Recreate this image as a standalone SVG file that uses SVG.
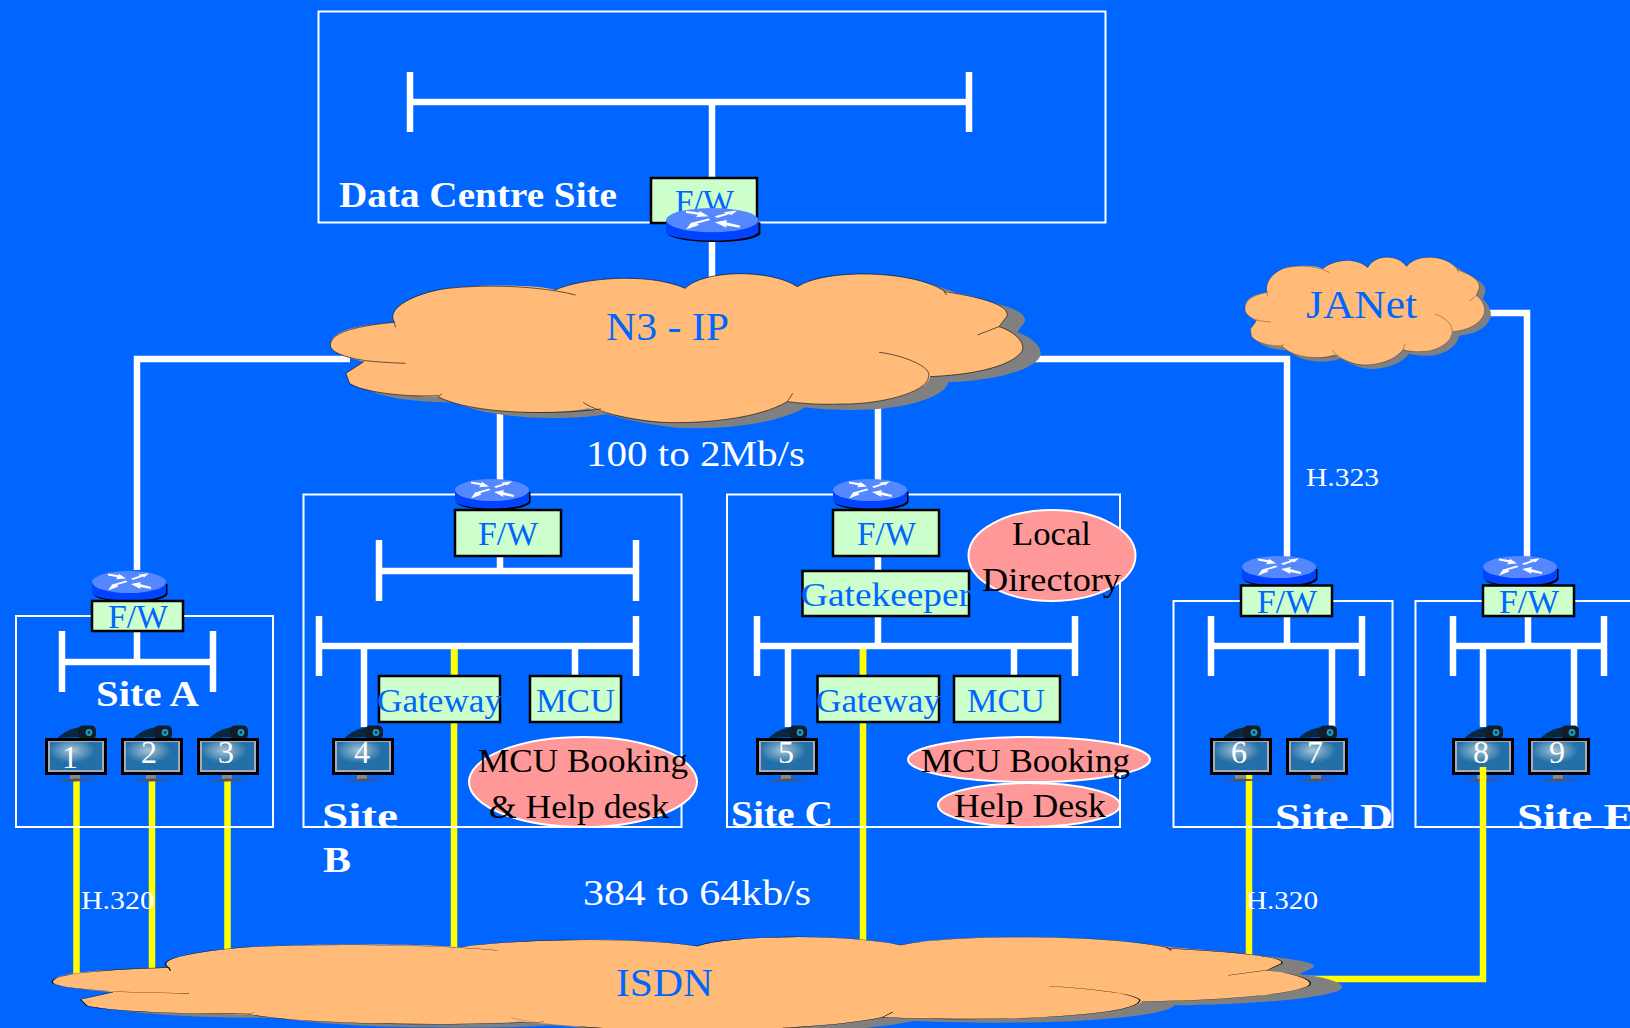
<svg xmlns="http://www.w3.org/2000/svg" xmlns:xlink="http://www.w3.org/1999/xlink" width="1630" height="1028" viewBox="0 0 1630 1028">
<style>
text{font-family:"Liberation Serif","Times New Roman",serif}
.w{fill:none;stroke:#fff;stroke-width:6.5}
.y{fill:none;stroke:#ff0;stroke-width:6.500}
.site{fill:none;stroke:#fff;stroke-width:2}
.box{fill:#ccffcc;stroke:#000;stroke-width:2.5}
.oval{fill:#ff9999;stroke:#fff;stroke-width:2}
.bl{fill:#0066ff;font-size:34px}
.bk{fill:#000;font-size:34px}
.lab{fill:#fff;font-size:36px;font-weight:bold}
.note{fill:#fff;font-size:36px}
.small{fill:#fff;font-size:26px}
.num{fill:#fff;font-size:32px;text-anchor:middle}
.cl{fill:#0066ff;font-size:40px}
.cf{fill:#ffbb77}
.cs{fill:#808080;clip-path:url(#shadowclip)}
.co{fill:none;stroke:#000;stroke-width:1.4;vector-effect:non-scaling-stroke}
</style>
<defs>
<clipPath id="shadowclip"><path d="M1180 700H1700V1400H-100V1110H1180Z"/></clipPath>
<radialGradient id="glow" cx="0.42" cy="0.3" r="0.45"><stop offset="0" stop-color="#a8c4d4"/><stop offset="1" stop-color="#2370a8"/></radialGradient>
<path id="cf" d="M60 1030C65 985 130 975 185 967C170 930 210 890 270 870C320 855 450 850 500 870C550 835 680 815 755 865C790 810 920 805 975 860C1030 805 1200 810 1262 872C1330 890 1395 915 1385 950L1370 980C1410 1000 1425 1040 1412 1060C1385 1105 1310 1125 1235 1130C1230 1180 1130 1215 1060 1212C1020 1215 980 1210 955 1205C900 1255 800 1268 740 1268C680 1270 600 1240 565 1225C500 1245 340 1245 270 1190C200 1192 120 1175 97 1150L90 1120L125 1085C85 1070 55 1055 60 1030Z"/>
<path id="co" d="M207 1090C170 1088 140 1085 120 1080C85 1070 55 1055 60 1030C65 990 130 975 185 967L187 982M185 967C170 930 210 890 270 870C320 855 450 850 540 885M500 870C550 835 680 815 755 865M755 865C790 810 920 805 975 860M975 860C1030 805 1200 810 1262 872L1267 885M1262 875C1330 890 1395 915 1385 950L1370 980L1328 1005M1370 980C1410 1000 1425 1040 1412 1060C1385 1105 1310 1125 1235 1130M1135 1057C1180 1065 1240 1100 1232 1130C1230 1180 1130 1215 1060 1212C1020 1215 980 1210 955 1205L966 1180M955 1205C900 1255 800 1268 740 1268C680 1270 590 1245 555 1207M590 1227C500 1245 340 1245 270 1190L278 1182M270 1187C200 1192 120 1175 97 1150L90 1120L125 1085"/>
<g id="router">
<path d="M1.500 13V23.500C6 33 70 34 75.500 23.500V13Z" fill="#000"/>
<path d="M0 11V22C4 31 66 33 74 22V11Z" fill="#0044ff"/>
<ellipse cx="37" cy="11" rx="37" ry="11" fill="#5588ff"/>
<path d="M16 2.500L27 4.200L26.500 2.500L34 7.500L24 8.200L25.500 6.200L16 4.500ZM39 7.500L48 4.800L46 3.800L57 2.300L52 6.500L51 5.500L41 9ZM35.500 11L25 14L26.500 15.500L16 19.500L20 13.500L22 13L34 9.500ZM59 18L48 16L48.500 18L39 13L49 11L48 13L59 16Z" fill="#fff"/>
</g>
<g id="monitor">
<path d="M13 0C18 -6 27 -10 37 -11L38 -1Z" fill="#07283e"/>
<rect x="33" y="-12.500" width="18" height="14" rx="5" fill="#131d2a"/>
<circle cx="44" cy="-5.500" r="3.400" fill="#1f9dc0"/>
<circle cx="44" cy="-5.500" r="1.400" fill="#073a50"/>
<rect x="25" y="36" width="10" height="5" fill="#888"/>
<path d="M10 43L30 40.500L55 42L30 43.500Z" fill="#555"/>
<rect x="1" y="1" width="60" height="35" fill="#000"/>
<rect x="3" y="3" width="56" height="31" fill="#aab"/>
<rect x="5" y="4" width="52" height="28" fill="url(#glow)"/>
<rect x="1" y="1" width="60" height="35" fill="none" stroke="#000" stroke-width="2"/>
</g>
</defs>
<rect id="background" width="1630" height="1028" fill="#0066ff"/>
<g id="connectors">
<path class="w" d="M712 102V178M712 240V285"/>
<path class="w" d="M137 570V359H350M1030 359H1287V560"/>
<path class="w" d="M1490 313H1527V560"/>
<path class="w" d="M500 410V482M878 400V482"/>
<path class="w" d="M137 631V662M500 556V571M878 556V570M878 616V646M1287 616V646M1528 616V646"/>
<path class="y" d="M76.500 781V985M152 781V985M227.500 781V985M454 649V950M863 649V950M1249 775V960M1300 979H1486"/>
</g>
<g id="data-centre">
<rect class="site" x="318.500" y="11.500" width="787" height="211"/>
<path class="w" d="M410 72V132M969 72V132M410 102H969"/>
<rect class="box" x="651" y="178" width="106" height="45"/>
<text class="bl" x="675" y="213" textLength="59" lengthAdjust="spacingAndGlyphs">F/W</text>
<use href="#router" transform="translate(666 208) scale(1.25 1.1)"/>
<text class="lab" x="339" y="207" textLength="278" lengthAdjust="spacingAndGlyphs">Data Centre Site</text>
</g>
<g id="site-a">
<rect class="site" x="16" y="616" width="257" height="211"/>
<path class="w" d="M62 631V692M213 631V692M62 662H213"/>
<use href="#router" x="92" y="571"/>
<rect class="box" x="92" y="601" width="91" height="30"/>
<text class="bl" x="108" y="628" textLength="60" lengthAdjust="spacingAndGlyphs">F/W</text>
<text class="lab" x="96" y="706" textLength="103" lengthAdjust="spacingAndGlyphs">Site A</text>
<use href="#monitor" x="45" y="738"/><text class="num" x="70" y="768">1</text>
<use href="#monitor" x="121" y="738"/><text class="num" x="149" y="763">2</text>
<use href="#monitor" x="197" y="738"/><text class="num" x="226" y="763">3</text>
</g>
<g id="site-b">
<rect class="site" x="303.500" y="494.500" width="378" height="332.500"/>
<path class="w" d="M379 540V601M636 540V601M379 571H636M319 616V676M636 616V676M319 646H636M364 646V727M575 646V676"/>
<path class="y" d="M454.500 649V680"/>
<use href="#router" x="455" y="479"/>
<rect class="box" x="455" y="510" width="106" height="46"/>
<text class="bl" x="478" y="545" textLength="60" lengthAdjust="spacingAndGlyphs">F/W</text>
<rect class="box" x="379" y="676" width="121" height="46"/>
<text class="bl" x="377" y="712" textLength="125" lengthAdjust="spacingAndGlyphs">Gateway</text>
<rect class="box" x="530" y="676" width="91" height="46"/>
<text class="bl" x="536" y="712" textLength="79" lengthAdjust="spacingAndGlyphs">MCU</text>
<use href="#monitor" x="332" y="738"/><text class="num" x="362" y="763">4</text>
<ellipse class="oval" cx="583" cy="782" rx="114" ry="45"/>
<text class="bk" x="478" y="772" textLength="210" lengthAdjust="spacingAndGlyphs">MCU Booking</text>
<text class="bk" x="489" y="818" textLength="180" lengthAdjust="spacingAndGlyphs">&amp; Help desk</text>
<text class="lab" x="322" y="828" textLength="76" lengthAdjust="spacingAndGlyphs">Site</text>
<text class="lab" x="323" y="872" textLength="28" lengthAdjust="spacingAndGlyphs">B</text>
</g>
<g id="site-c">
<rect class="site" x="727" y="494.500" width="393" height="332.500"/>
<path class="w" d="M757 616V676M1075 616V676M757 646H1075M788 646V727M1014 646V676"/>
<use href="#router" x="833" y="479"/>
<rect class="box" x="833" y="510" width="106" height="46"/>
<text class="bl" x="857" y="545" textLength="59" lengthAdjust="spacingAndGlyphs">F/W</text>
<rect class="box" x="802.500" y="571" width="166.500" height="45"/>
<text class="bl" x="801" y="606" textLength="170" lengthAdjust="spacingAndGlyphs">Gatekeeper</text>
<path class="y" d="M863 649V680"/>
<rect class="box" x="817.500" y="676" width="121.500" height="46"/>
<text class="bl" x="816" y="712" textLength="125" lengthAdjust="spacingAndGlyphs">Gateway</text>
<rect class="box" x="954" y="676" width="106" height="46"/>
<text class="bl" x="967" y="712" textLength="78" lengthAdjust="spacingAndGlyphs">MCU</text>
<use href="#monitor" x="756" y="738"/><text class="num" x="786" y="763">5</text>
<ellipse class="oval" cx="1052" cy="555.500" rx="83.500" ry="45.500"/>
<text class="bk" x="1012" y="545" textLength="79" lengthAdjust="spacingAndGlyphs">Local</text>
<text class="bk" x="982" y="591" textLength="139" lengthAdjust="spacingAndGlyphs">Directory</text>
<ellipse class="oval" cx="1029" cy="759.500" rx="121" ry="22.500"/>
<text class="bk" x="921" y="772" textLength="209" lengthAdjust="spacingAndGlyphs">MCU Booking</text>
<ellipse class="oval" cx="1029" cy="805" rx="91" ry="22"/>
<text class="bk" x="954" y="817" textLength="152" lengthAdjust="spacingAndGlyphs">Help Desk</text>
<text class="lab" x="731" y="826" textLength="102" lengthAdjust="spacingAndGlyphs">Site C</text>
</g>
<g id="site-d">
<rect class="site" x="1173.500" y="601" width="219" height="226"/>
<path class="w" d="M1211 616V676M1362 616V676M1211 646H1362M1332 646V727"/>
<use href="#router" x="1242" y="556"/>
<rect class="box" x="1241" y="585.500" width="91" height="30.500"/>
<text class="bl" x="1257" y="613" textLength="60" lengthAdjust="spacingAndGlyphs">F/W</text>
<use href="#monitor" x="1210" y="738"/><text class="num" x="1239" y="763">6</text>
<use href="#monitor" x="1286" y="738"/><text class="num" x="1315" y="763">7</text>
<text class="lab" x="1275" y="829" textLength="118" lengthAdjust="spacingAndGlyphs">Site D</text>
</g>
<g id="site-e">
<rect class="site" x="1415.500" y="601" width="240" height="226"/>
<path class="w" d="M1453 616V676M1604 616V676M1453 646H1604M1483 646V727M1574 646V727"/>
<use href="#router" x="1483" y="556"/>
<rect class="box" x="1483" y="585.500" width="91" height="30.500"/>
<text class="bl" x="1499" y="613" textLength="60" lengthAdjust="spacingAndGlyphs">F/W</text>
<use href="#monitor" x="1452" y="738"/><text class="num" x="1481" y="763">8</text>
<use href="#monitor" x="1528" y="738"/><text class="num" x="1557" y="763">9</text>
<text class="lab" x="1517" y="829" textLength="118" lengthAdjust="spacingAndGlyphs">Site E</text>
<path class="y" d="M1483 767V982"/>
</g>
<g id="cloud-n3">
<use href="#cf" class="cs" transform="translate(318 5.700) scale(.5102 .3333)"/>
<use href="#cf" class="cf" transform="translate(300 0) scale(.5102 .3333)"/>
<use href="#co" class="co" transform="translate(300 0) scale(.5102 .3333)"/>
<text class="cl" x="606" y="340" textLength="123" lengthAdjust="spacingAndGlyphs">N3 - IP</text>
</g>
<g id="cloud-janet">
<use href="#cf" class="cs" transform="translate(1240.600 63) scale(.1767 .2413)"/>
<use href="#cf" class="cf" transform="translate(1234.400 59) scale(.1767 .2413)"/>
<use href="#co" class="co" transform="translate(1234.400 59) scale(.1767 .2413)"/>
<text class="cl" x="1306" y="318" textLength="111" lengthAdjust="spacingAndGlyphs">JANet</text>
</g>
<g id="cloud-isdn">
<use href="#cf" class="cs" transform="translate(29.100 768.800) scale(.927 .2093)"/>
<use href="#cf" class="cf" transform="translate(-2.900 765.100) scale(.927 .2093)"/>
<use href="#co" class="co" transform="translate(-2.900 765.100) scale(.927 .2093)"/>
<text class="cl" x="616" y="996" textLength="97" lengthAdjust="spacingAndGlyphs">ISDN</text>
</g>
<g id="labels">
<text class="note" x="586" y="466" textLength="219" lengthAdjust="spacingAndGlyphs">100 to 2Mb/s</text>
<text class="note" x="583" y="905" textLength="228" lengthAdjust="spacingAndGlyphs">384 to 64kb/s</text>
<text class="small" x="1306" y="486" textLength="73" lengthAdjust="spacingAndGlyphs">H.323</text>
<text class="small" x="81" y="909" textLength="74" lengthAdjust="spacingAndGlyphs">H.320</text>
<text class="small" x="1246" y="909" textLength="72" lengthAdjust="spacingAndGlyphs">H.320</text>
</g>
</svg>
